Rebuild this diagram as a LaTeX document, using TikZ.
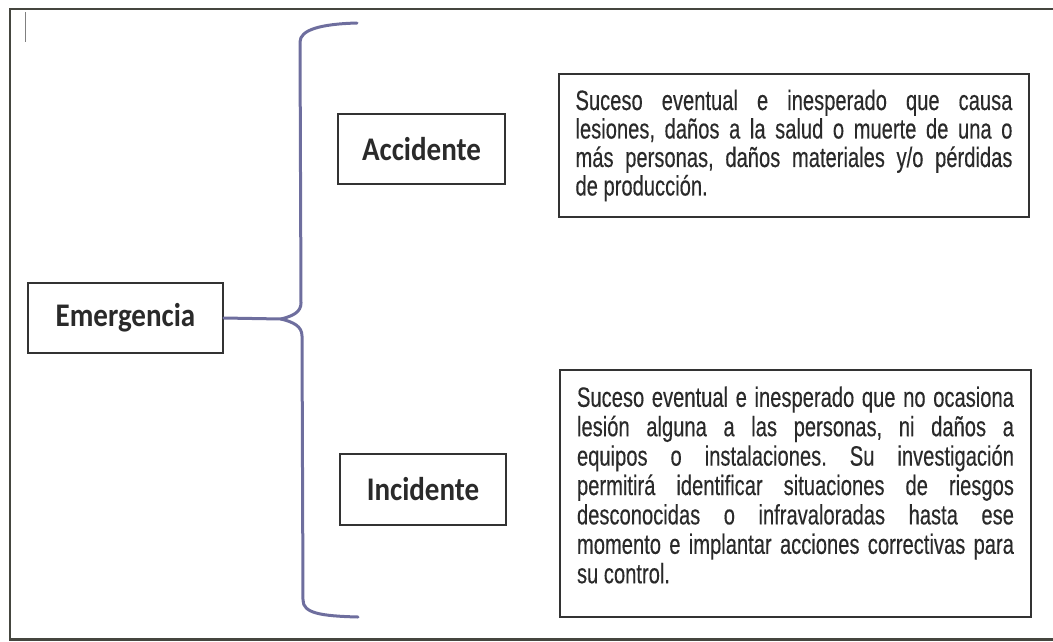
\documentclass[tikz,border=0pt]{standalone}
\usepackage{fontspec}
\setmainfont{Carlito}
\newfontfamily\labelfont{Carlito}[FakeStretch=0.88]
\newfontfamily\narrowfont{Liberation Sans}[FakeStretch=0.72,FakeBold=0.3]
\definecolor{framecol}{HTML}{45463F}
\definecolor{boxcol}{HTML}{333333}
\definecolor{bracecol}{HTML}{6E6E9E}
\definecolor{txtcol}{HTML}{2A2A2A}
\tikzset{
  labelbox/.style={draw=boxcol, line width=1.8pt, minimum height=70pt, inner sep=0pt,
     font=\labelfont\fontsize{33}{35}\selectfont\bfseries, text=txtcol},
  textbox/.style={draw=boxcol, line width=1.8pt, inner sep=0pt, text=txtcol},
  bracestyle/.style={draw=bracecol, line width=3pt, line cap=round, line join=round},
}
\newcommand{\bodytext}[1]{\narrowfont\frenchspacing\fontsize{28}{#1}\selectfont}
\begin{document}
\begin{tikzpicture}[x=1pt,y=-1pt]
\useasboundingbox (0,0) rectangle (1053,641);
% outer frame (open on the right)
\draw[framecol, line width=2.4pt] (1053,9) -- (10,9) -- (10,639.5) -- (1053,639.5);
\draw[gray, line width=0.8pt] (25,12) -- (25,42);

% label boxes
\node[labelbox, minimum width=195pt] (emer) at (125.5,318) {Emergencia};
\node[labelbox, minimum width=167pt] (acc) at (421.5,149) {Accidente};
\node[labelbox, minimum width=166pt, minimum height=71pt] (inc) at (423,489.5) {Incidente};

% text boxes
\node[textbox, minimum width=470pt, minimum height=143pt] (acctext) at (794,145.5)
 {\parbox{437pt}{\bodytext{28.5}Suceso eventual e inesperado que causa\linebreak
 lesiones, daños a la salud o muerte de una o\linebreak
 más personas, daños materiales y/o pérdidas\linebreak
 de producción.}};
\node[textbox, minimum width=471pt, minimum height=247pt] (inctext) at (795.5,493.5)
 {\parbox{437pt}{\bodytext{29.4}Suceso eventual e inesperado que no ocasiona\linebreak
 lesión alguna a las personas, ni daños a\linebreak
 equipos o instalaciones. Su investigación\linebreak
 permitirá identificar situaciones de riesgos\linebreak
 desconocidas o infravaloradas hasta ese\linebreak
 momento e implantar acciones correctivas para\linebreak
 su control.\par\vspace{17pt}}};

% brace
\coordinate (cusp) at (281,319);
\coordinate (btop) at (357,23);
\coordinate (bbot) at (358,617);
\draw[bracestyle] (emer.east) -- (cusp);
\draw[bracestyle] (cusp) .. controls (293,316) and (301,312) .. (301,303)
   -- (300,42) .. controls (300,30) and (320,24) .. (btop);
\draw[bracestyle] (cusp) .. controls (293,322) and (302,326) .. (302,336)
   -- (303,600) .. controls (303,613) and (320,616) .. (bbot);
\end{tikzpicture}
\end{document}
